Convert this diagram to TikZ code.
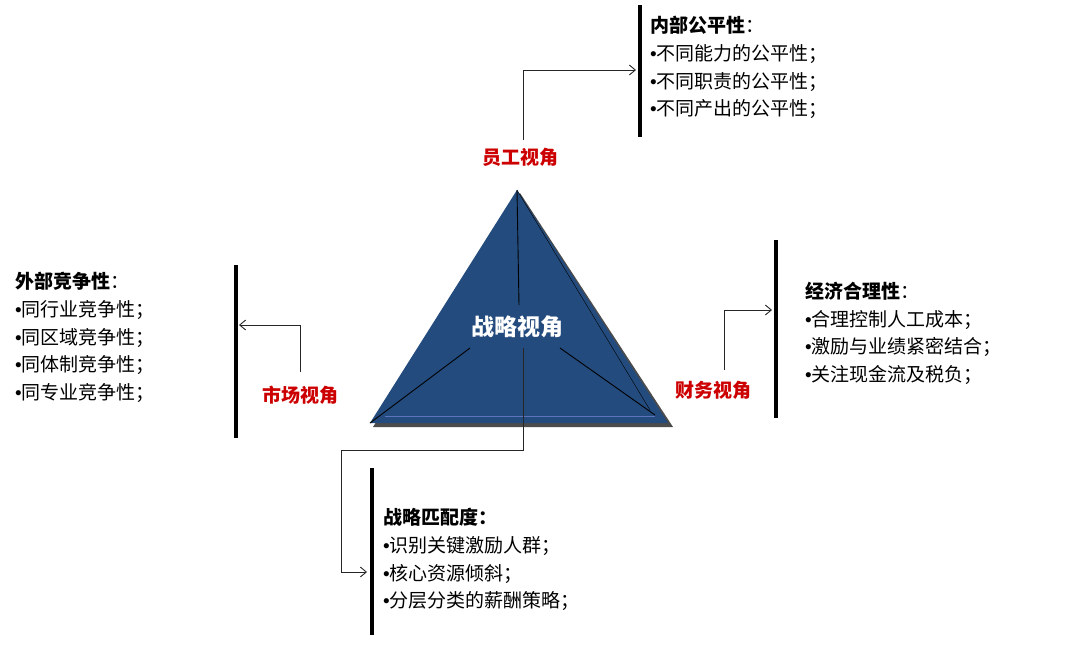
\documentclass[tikz,border=0pt]{standalone}
\usepackage{fontspec}
\setmainfont{Noto Sans CJK SC}
\newfontfamily\latn{Liberation Sans}
\newcommand{\bul}{{\latn •}}
\usetikzlibrary{arrows.meta}
\begin{document}
\begin{tikzpicture}[x=1pt,y=-1pt,
  conn/.style={draw=black!85,line width=0.9pt,-{Straight Barb[length=6pt,width=10pt]}},
  bar/.style={line width=3.5pt},
  red/.style={text=red!80!black,font=\fontsize{19}{19}\selectfont\bfseries},
  list/.style={anchor=north west,align=left,font=\fontsize{19}{27.7}\selectfont,inner sep=0pt}]
\useasboundingbox (0,0) rectangle (1080,648);
% triangle
\fill[black!70] (373,427) -- (520,193) -- (673,427) -- cycle;
\fill[fill={rgb,255:red,35;green,75;blue,125}] (370,423) coordinate(bl) -- (517,190) coordinate(ap) -- (668,423) coordinate(br) -- cycle;
\draw[white!60!blue,opacity=.5,line width=0.6pt] (385,416) -- (655,416);
\draw[black,line width=0.4pt] (ap) -- (650,410);
\node[text=white,font=\fontsize{23}{23}\selectfont\bfseries] (center) at (517,327) {战略视角};
\draw[line width=0.9pt] (ap) -- (519,305);
\draw[line width=0.9pt] (470,348) -- (bl);
\draw[line width=0.9pt] (560,348) -- (655,415);
% labels
\node[red] (yg) at (520,157) {员工视角};
\node[red] (sc) at (300,395) {市场视角};
\node[red] (cw) at (713,390) {财务视角};
% bars
\draw[bar] (640,5) -- (640,137);
\draw[bar] (236,265) -- (236,438);
\draw[bar] (776,240) -- (776,418);
\draw[bar] (372,468) -- (372,635);
\coordinate (a1) at (636,70);
\coordinate (a2) at (239,325);
\coordinate (a3) at (772,310);
\coordinate (a4) at (367,572);
\draw[conn] (523,140) |- (a1);
\draw[conn] (300,372) |- (a2);
\draw[conn] (724,370) |- (a3);
\draw[conn] (523,348) |- (341,450) |- (a4);
% texts
\node[list] (t1) at (650,16) {\textbf{内部公平性}：\\\bul{}不同能力的公平性；\\\bul{}不同职责的公平性；\\\bul{}不同产出的公平性；};
\node[list] (t2) at (15,272) {\textbf{外部竞争性}：\\\bul{}同行业竞争性；\\\bul{}同区域竞争性；\\\bul{}同体制竞争性；\\\bul{}同专业竞争性；};
\node[list] (t3) at (805,282) {\textbf{经济合理性}：\\\bul{}合理控制人工成本；\\\bul{}激励与业绩紧密结合；\\\bul{}关注现金流及税负；};
\node[list] (t4) at (383,508) {\textbf{战略匹配度：}\\\bul{}识别关键激励人群；\\\bul{}核心资源倾斜；\\\bul{}分层分类的薪酬策略；};
\end{tikzpicture}
\end{document}
